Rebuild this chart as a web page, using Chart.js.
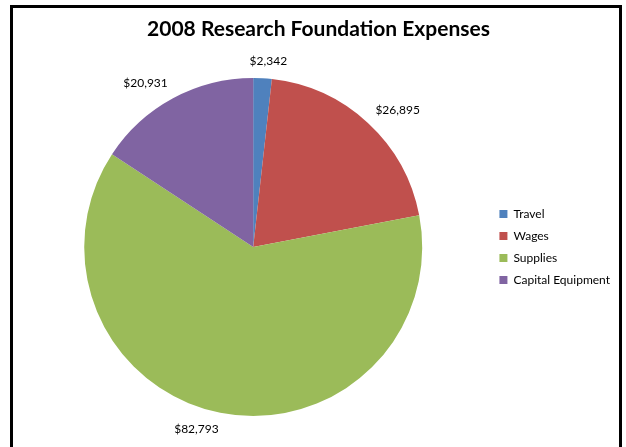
<!DOCTYPE html>
<html>
<head>
<meta charset="utf-8">
<script src="https://cdn.jsdelivr.net/npm/chart.js@4.4.1/dist/chart.umd.min.js"></script>
<style>
    html, body { margin: 0; padding: 0; background: #fff; overflow: hidden; }
    #wrap { position: relative; width: 626px; height: 447px; }
    #frame {
        position: absolute; left: 10px; top: 5px; width: 606px; height: 460px;
        border: 3px solid #000; pointer-events: none;
    }
    canvas { position: absolute; left: 0; top: 0; }
</style>
</head>
<body>
<div id="wrap">
    <canvas id="expensesChart" width="626" height="447"></canvas>
    <div id="frame"></div>
</div>
<script>
// Expense categories and amounts (USD)
const categories = ['Travel', 'Wages', 'Supplies', 'Capital Equipment'];
const amounts = [2342, 26895, 82793, 20931];
const sliceColors = ['#4F81BD', '#C0504D', '#9BBB59', '#8064A2'];

const fontFamily = 'Lato, "Open Sans", sans-serif';

// Dollar labels outside each slice: anchor just past the rim at the slice's mid angle,
// then push the text box away from the pie (left/right aligned on the sides, centred near top/bottom)
const outsideLabels = {
    id: 'outsideLabels',
    afterDatasetsDraw(chart) {
        const ctx = chart.ctx;
        const meta = chart.getDatasetMeta(0);
        const gap = 11;
        const textH = 12;
        ctx.save();
        ctx.font = `12px ${fontFamily}`;
        ctx.fillStyle = '#000';
        ctx.textAlign = 'center';
        ctx.textBaseline = 'middle';
        meta.data.forEach((arc, i) => {
            const { x, y, startAngle, endAngle, outerRadius } = arc.getProps(['x', 'y', 'startAngle', 'endAngle', 'outerRadius'], true);
            const mid = (startAngle + endAngle) / 2;
            const cos = Math.cos(mid), sin = Math.sin(mid);
            const text = '$' + amounts[i].toLocaleString('en-US');
            const w = ctx.measureText(text).width;
            const px = x + cos * (outerRadius + gap);
            const py = y + sin * (outerRadius + gap);
            const shift = Math.max(-1, Math.min(1, cos * 5));
            ctx.fillText(text, px + shift * w / 2, py + sin * textH / 2);
        });
        ctx.restore();
    }
};

new Chart(document.getElementById('expensesChart').getContext('2d'), {
    type: 'pie',
    data: {
        labels: categories,
        datasets: [{
            data: amounts,
            backgroundColor: sliceColors,
            borderWidth: 0,
        }],
    },
    options: {
        responsive: false,
        animation: false,
        layout: { padding: { left: 17, right: 6, top: 0, bottom: 31 } },
        plugins: {
            title: {
                display: true,
                text: '2008 Research Foundation Expenses',
                color: '#000',
                font: { family: fontFamily, size: 21, weight: 'bold' },
                padding: { top: 17, bottom: 35.8 },
            },
            legend: {
                position: 'right',
                // empty legend title just pushes the items down
                title: {
                    display: true,
                    text: '',
                    font: { family: fontFamily, size: 10, lineHeight: 1 },
                    padding: { top: 68, bottom: 0 },
                },
                labels: {
                    color: '#000',
                    boxWidth: 8,
                    boxHeight: 8,
                    padding: 10,
                    font: { family: fontFamily, size: 12 },
                },
            },
            tooltip: { enabled: false },
        },
    },
    plugins: [outsideLabels],
});
</script>
</body>
</html>
